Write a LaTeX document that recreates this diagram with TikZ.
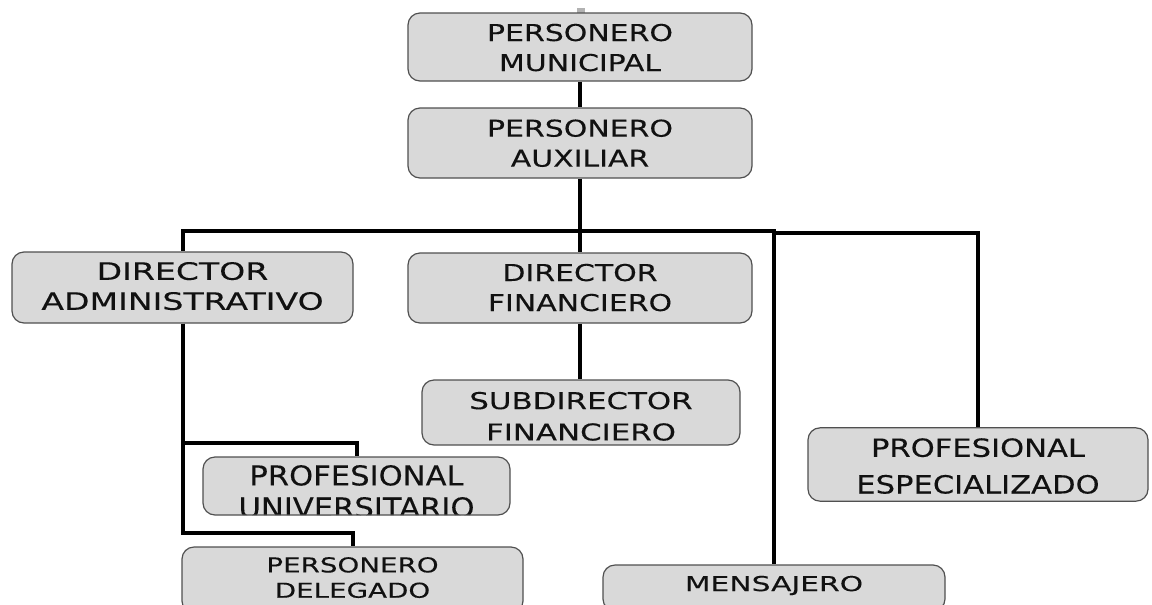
\documentclass[tikz,border=0pt]{standalone}
\usepackage{fontspec}
\setmainfont{DejaVu Sans}[FakeBold=0.15]
\usepackage{graphicx}
\newcommand{\bt}[5]{\scalebox{#3}[1]{\raisebox{#5}[\height][\depth]{\fontsize{#1}{#2}\selectfont\begin{tabular}{@{}c@{}}#4\end{tabular}}}}
\definecolor{boxfill}{HTML}{D9D9D9}
\definecolor{boxline}{HTML}{505050}
\definecolor{txt}{HTML}{111111}
\tikzset{
  box/.style={draw=boxline, fill=boxfill, rounded corners=9pt, line width=0.9pt,
              inner sep=0pt, text=txt},
  conn/.style={draw=black, line width=3pt}
}
\begin{document}
\begin{tikzpicture}[x=0.75pt,y=-0.75pt]
\fill[white] (0,0) rectangle (1152,604);
\useasboundingbox (0,0) rectangle (1152,604);

\fill[gray!60] (577,8) rectangle (585,13);

\coordinate (j)  at (580,231);
\coordinate (j2) at (774,233);
\coordinate (bu) at (356.5,443);
\coordinate (bd) at (352.5,533);

\node[box, minimum width=258pt, minimum height=51pt] (mun) at (580,47)
  {\bt{17.4}{22.5}{1.29}{PERSONERO\\MUNICIPAL}{-2.25pt}};
\node[box, minimum width=258pt, minimum height=52.5pt] (aux) at (580,143)
  {\bt{17.4}{22.5}{1.29}{PERSONERO\\AUXILIAR}{-2pt}};
\node[box, minimum width=255.75pt, minimum height=53.25pt] (dadm) at (182.5,287.5)
  {\bt{18}{22.5}{1.38}{DIRECTOR\\ADMINISTRATIVO}{-1pt}};
\node[box, minimum width=258pt, minimum height=52.5pt] (dfin) at (580,288)
  {\bt{17.4}{22.5}{1.29}{DIRECTOR\\FINANCIERO}{-1.5pt}};
\node[box, minimum width=238.5pt, minimum height=48.75pt] (sub) at (581,412.5)
  {\bt{17.4}{23.5}{1.33}{SUBDIRECTOR\\FINANCIERO}{-4.5pt}};
\node[box, minimum width=230.25pt, minimum height=43.5pt,
  path picture={\node[text=txt] at ([yshift=-6.75pt]path picture bounding box.center)
  {\bt{20.5}{24}{1.12}{PROFESIONAL\\UNIVERSITARIO}{0pt}};}] (puni) at (356.5,486) {};
\node[box, minimum width=255.75pt, minimum height=49.5pt] (deleg) at (352.5,580)
  {\bt{15.4}{19}{1.35}{PERSONERO\\DELEGADO}{0pt}};
\node[box, minimum width=255pt, minimum height=51.75pt] (espec) at (978,464.5)
  {\bt{18.8}{27.5}{1.22}{PROFESIONAL\\ESPECIALIZADO}{-2.5pt}};
\node[box, minimum width=256.5pt, minimum height=34.5pt] (mens) at (774,588)
  {\bt{15.4}{19}{1.45}{MENSAJERO}{1.5pt}};

\draw[conn] (mun.south) -- (aux.north);
\draw[conn] (aux.south) -- (j);
\draw[conn] (j) -| (dadm.north);
\draw[conn] (j) -- (dfin.north);
\draw[conn] (j) -| (mens.north);
\draw[conn] (j2) -| (espec.north);
\draw[conn] (dfin.south) -- (dfin.south |- sub.north);
\draw[conn] (dadm.south) |- (bu) -- (puni.north);
\draw[conn] (dadm.south) |- (bd) -- (deleg.north);
\end{tikzpicture}
\end{document}
